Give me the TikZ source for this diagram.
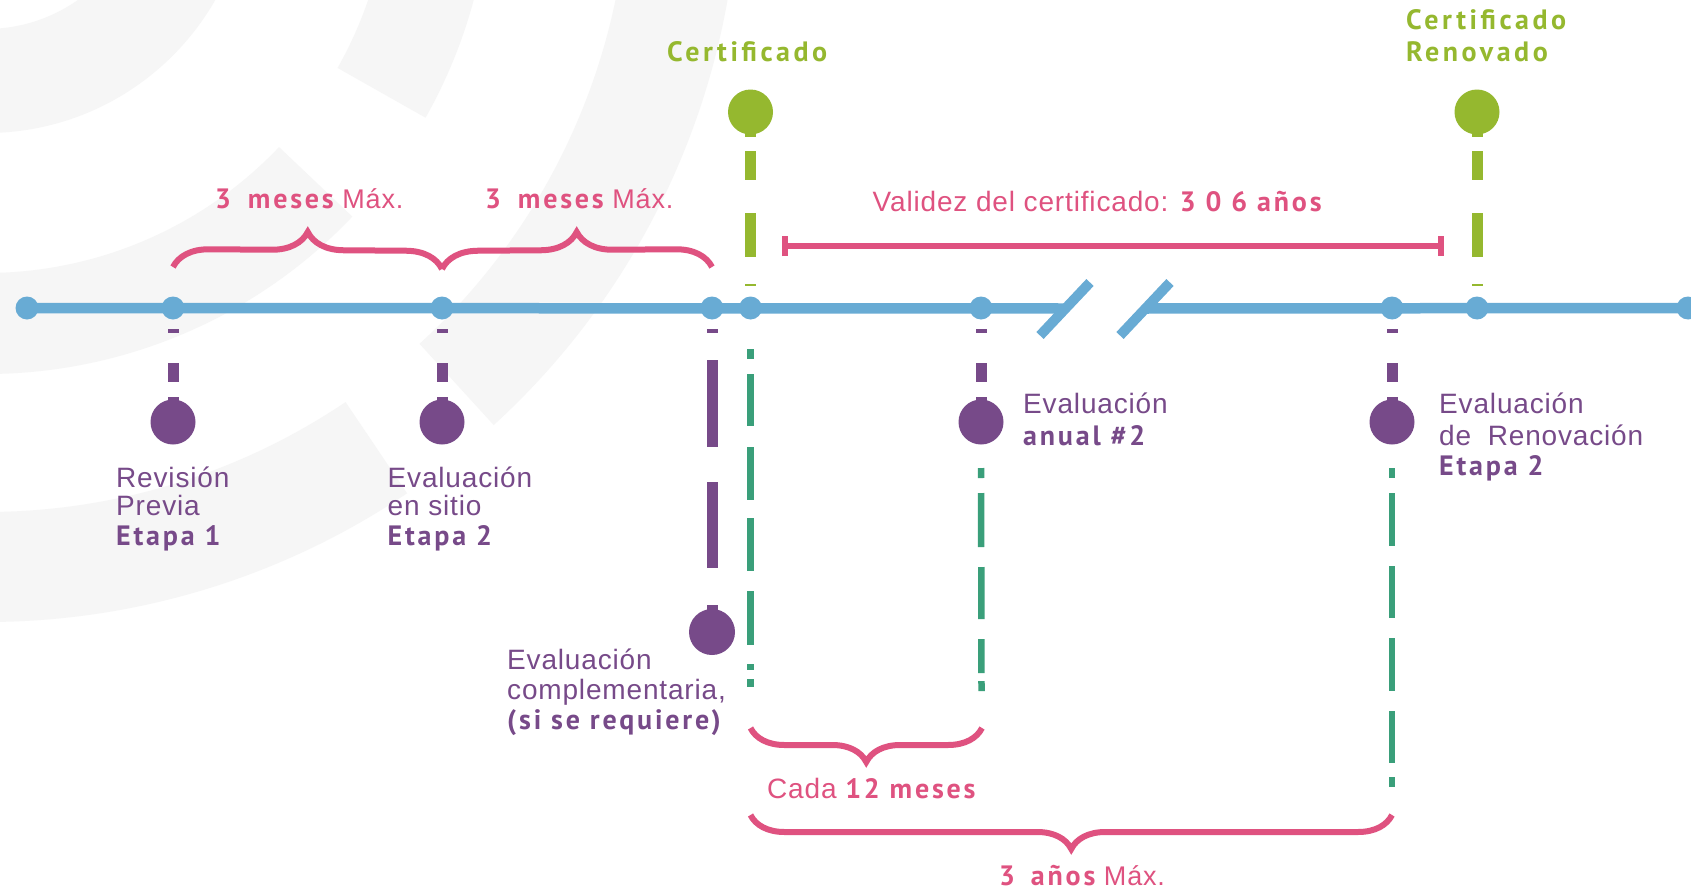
\documentclass[tikz,border=0pt]{standalone}
\usepackage{fontspec}
\setmainfont{Liberation Sans}
\newfontfamily\rg{Liberation Sans}[LetterSpace=3]
\newfontfamily\bd{PT Sans}[LetterSpace=10]
\newfontfamily\bdw{PT Sans}[LetterSpace=12.5]
\usetikzlibrary{decorations.pathreplacing,arrows.meta,calc}
\pgfdeclarelayer{bgzero}
\pgfdeclarelayer{bgone}
\pgfsetlayers{bgzero,bgone,main}
\definecolor{tlblue}{HTML}{68ABD4}
\definecolor{purp}{HTML}{774A89}
\definecolor{lgreen}{HTML}{95B82F}
\definecolor{tealc}{HTML}{3A9F7A}
\definecolor{pinkc}{HTML}{DF5280}
\definecolor{bgc}{HTML}{F6F6F6}
\begin{document}
\begin{tikzpicture}[x=1pt,y=-1pt,
  tdot/.style={circle,fill=tlblue,minimum size=23pt,inner sep=0pt},
  pball/.style={circle,fill=purp,minimum size=45pt,inner sep=0pt},
  gball/.style={circle,fill=lgreen,minimum size=45pt,inner sep=0pt},
  tline/.style={line width=10.5pt,tlblue},
  slashln/.style={line width=10pt,tlblue},
  pconn/.style={line width=11pt,purp},
  gconn/.style={line width=11pt,lgreen},
  tconn/.style={line width=6.5pt,tealc},
  brc/.style={pinkc,line width=6pt,decorate,decoration={brace,amplitude=#1}},
  valbar/.style={pinkc,line width=6pt,{Bar[width=20pt]}-{Bar[width=20pt]}},
  lab/.style={anchor=base west,inner sep=0pt,font=\fontsize{28}{30}\selectfont\rg},
  plab/.style={lab,text=purp},
  klab/.style={lab,text=pinkc},
  glab/.style={lab,text=lgreen,font=\fontsize{28}{30}\selectfont\bdw\bfseries},
  ring/.style={bgc}
]
\useasboundingbox (0,0) rectangle (1691,891);
\begin{pgfonlayer}{bgzero}
  \fill[white] (0,0) rectangle (1691,891);
  \begin{scope}
    \clip (0,0) rectangle (1691,891);
    \coordinate (O) at (-14,-131);
    \fill[ring] ($(O)+(0:160)$) arc[start angle=0,end angle=90,radius=160]
      -- ($(O)+(90:264)$) arc[start angle=90,end angle=0,radius=264] -- cycle;
    \fill[ring] ($(O)+(0:404)$) arc[start angle=0,end angle=29.5,radius=404]
      -- ($(O)+(29.5:505)$) arc[start angle=29.5,end angle=0,radius=505] -- cycle;
    \fill[ring] ($(O)+(43.5:404)$) arc[start angle=43.5,end angle=90,radius=404]
      -- ($(O)+(90:505)$) arc[start angle=90,end angle=43.5,radius=505] -- cycle;
    \fill[ring] ($(O)+(0:643)$) arc[start angle=0,end angle=47.6,radius=643]
      -- ($(O)+(47.6:753)$) arc[start angle=47.6,end angle=0,radius=753] -- cycle;
    \fill[ring] ($(O)+(56:643)$) arc[start angle=56,end angle=90,radius=643]
      -- ($(O)+(90:753)$) arc[start angle=90,end angle=56,radius=753] -- cycle;
  \end{scope}
\end{pgfonlayer}

% timeline dots
\node[tdot] (d0) at (27,308) {};
\node[tdot] (d1) at (173,308) {};
\node[tdot] (d2) at (442,308) {};
\node[tdot] (d3) at (712,308) {};
\node[tdot] (d4) at (750.5,308) {};
\node[tdot] (d5) at (981,308) {};
\node[tdot] (d6) at (1392,308) {};
\node[tdot] (d7) at (1477,308) {};
\node[tdot] (d8) at (1688,308) {};
% balls
\node[pball] (b1) at (173,422) {};
\node[pball] (b2) at (442,422) {};
\node[pball] (b3) at (981,422) {};
\node[pball] (b4) at (1392,422) {};
\node[pball,minimum size=46pt] (bc) at (712,632) {};
\node[gball] (g1) at (750.5,112) {};
\node[gball] (g2) at (1477,112) {};

\coordinate (br1) at (1065,308.5);
\coordinate (br2) at (1145,308.5);
\coordinate (t1e) at (750.5,687);
\coordinate (t2e) at (981.5,691);
\coordinate (t3e) at (1392,787);
\coordinate (vA) at (782,246);
\coordinate (vB) at (1444,246);

\begin{pgfonlayer}{bgone}
  % timeline
  \draw[tline] (d0.center) -- (br1);
  \draw[tline] (br2) -- (d8.center);
  \draw[slashln] ($(br1)+(-25,27)$) -- ($(br1)+(25,-26)$);
  \draw[slashln] ($(br2)+(-25,27)$) -- ($(br2)+(25,-26)$);
  % purple connectors
  \foreach \a/\b in {d1/b1,d2/b2,d5/b3,d6/b4}{
    \draw[pconn,shorten <=21pt,dash pattern=on 4pt off 30pt on 19pt off 15pt on 40pt off 20pt] (\a.center) -- (\b.center);
  }
  \draw[pconn,shorten <=21pt,dash pattern=on 4pt off 27pt on 87pt off 35pt on 86pt off 37pt on 40pt] (d3.center) -- (bc.center);
  % green connectors
  \foreach \a/\b in {g1/d4,g2/d7}{
    \draw[gconn,shorten <=12pt,shorten >=22pt,dash pattern=on 13pt off 14pt on 29pt off 33pt on 44pt off 27pt on 2pt off 40pt] (\a.center) -- (\b.center);
  }
  % teal connectors
  \draw[tconn,shorten <=41pt,dash pattern=on 10pt off 15pt on 52pt off 21pt on 53pt off 18pt on 53pt off 20pt on 54pt off 19pt on 6pt off 9pt on 8pt off 40pt] (d4.center) -- (t1e);
  \draw[tconn,shorten <=46pt,dash pattern=on 10pt off 15pt on 54pt off 20pt on 52pt off 20pt on 34pt off 8pt on 10pt off 40pt] (b3.center) -- (t2e);
  \draw[tconn,shorten <=46pt,dash pattern=on 10pt off 15pt on 53pt off 20pt on 52pt off 20pt on 53pt off 20pt on 52pt off 14pt on 10pt off 40pt] (b4.center) -- (t3e);
\end{pgfonlayer}

% braces
\coordinate (k1) at (173,267);
\coordinate (k2) at (442,269);
\coordinate (k3) at (712,267);
\draw[brc=36pt] (k1) -- (k2);
\draw[brc=36pt] (k2) -- (k3);
\coordinate (k4) at (750.5,728);
\coordinate (k5) at (982,728);
\draw[brc=34pt] (k5) -- (k4);
\coordinate (k6) at (750.5,815);
\coordinate (k7) at (1392,815);
\draw[brc=34pt] (k7) -- (k6);
% validity bar
\draw[valbar] (vA) -- (vB);

% labels
\node[glab] (c1) at (667,62) {Certificado};
\node[glab] (c2a) at (1406,30) {Certificado};
\node[glab] (c2b) at (1406,62) {Renovado};

\node[klab] (m1) at (215,208) {{\bd\bfseries 3\hspace{7pt} meses} {\fontsize{27}{30}\selectfont Máx.}};
\node[klab] (m2) at (485,208) {{\bd\bfseries 3\hspace{7pt} meses} {\fontsize{27}{30}\selectfont Máx.}};
\node[klab] (val) at (872.5,211) {Validez del certificado: {\bd\bfseries 3 0 6 años}};
\node[klab] (cada) at (767,798) {Cada {\bd\bfseries 12 meses}};
\node[klab] (anos) at (999,885) {{\bd\bfseries 3\hspace{6pt} años} {\fontsize{27}{30}\selectfont Máx.}};

\node[plab] (r1) at (116,487) {Revisión};
\node[plab] (r2) at (116,515) {Previa};
\node[plab] (r3) at (116,545) {\bd\bfseries Etapa 1};
\node[plab] (e1) at (387.5,487) {Evaluación};
\node[plab] (e2) at (387.5,515) {en sitio};
\node[plab] (e3) at (387.5,545) {\bd\bfseries Etapa 2};
\node[plab] (s1) at (507,669) {Evaluación};
\node[plab] (s2) at (507,699) {complementaria,};
\node[plab] (s3) at (507,729) {\bd\bfseries (si se requiere)};
\node[plab] (a1) at (1023,413) {Evaluación};
\node[plab] (a2) at (1023,445) {\bd\bfseries anual \#2};
\node[plab] (n1) at (1439,413) {Evaluación};
\node[plab] (n2) at (1439,445) {de\hspace{8pt} Renovación};
\node[plab] (n3) at (1439,475) {\bd\bfseries Etapa 2};
\end{tikzpicture}
\end{document}
